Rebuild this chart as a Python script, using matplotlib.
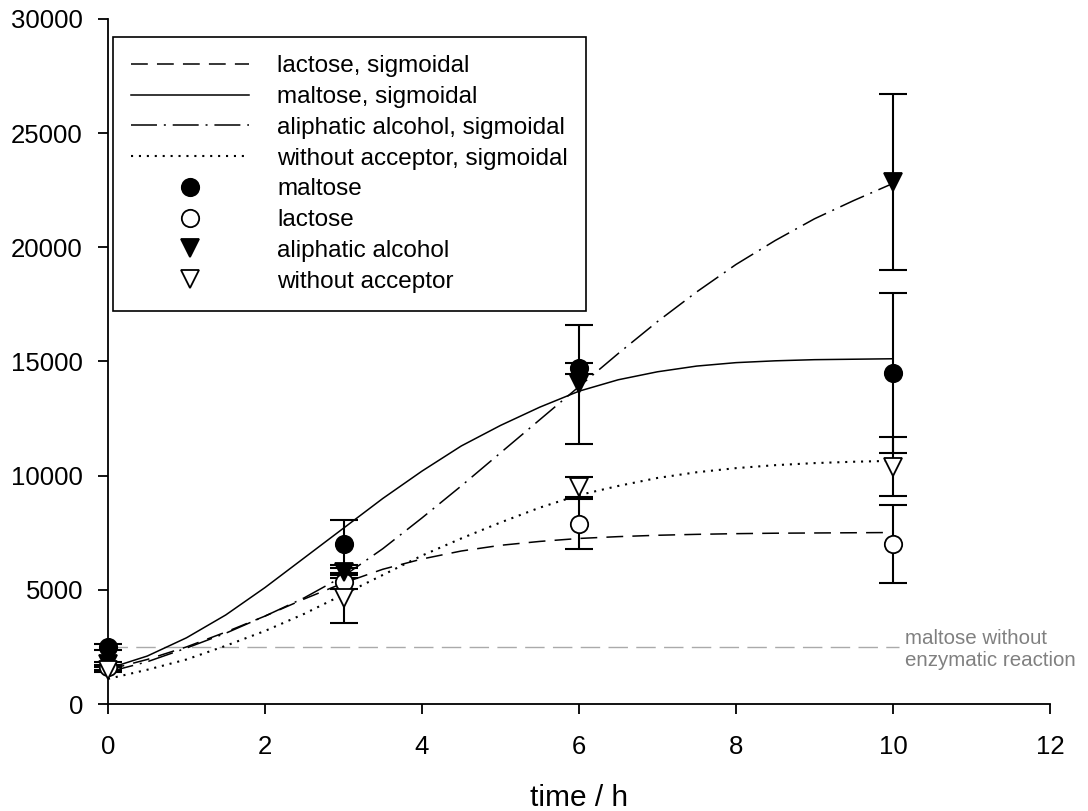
import numpy as np
import matplotlib.pyplot as plt
from matplotlib.lines import Line2D

plt.rcParams['font.family'] = ['Liberation Sans', 'DejaVu Sans']

# measured points
t = [0, 3, 6, 10]
maltose = [2500, 7000, 14700, 14500]
maltose_err = [120, 1050, 250, 3500]
lactose = [1600, 5350, 7900, 7000]
lactose_err = [100, 300, 1100, 1700]
alcohol = [1750, 5800, 14000, 22850]
alcohol_err = [100, 300, 2600, 3850]
no_acceptor = [1500, 4650, 9500, 10400]
no_acceptor_err = [100, 1100, 450, 1300]

t_fit = [0, 0.5, 1, 1.5, 2, 2.5, 3, 3.5, 4, 4.5, 5, 5.5, 6, 6.5, 7, 7.5, 8, 8.5, 9, 9.5, 10]
fit_lactose = [1500, 1950, 2500, 3150, 3850, 4600, 5300, 5900, 6350, 6700, 6950,
               7120, 7250, 7330, 7390, 7430, 7460, 7480, 7490, 7500, 7510]
fit_maltose = [1550, 2100, 2900, 3900, 5100, 6400, 7700, 9000, 10200, 11300, 12200,
               13000, 13700, 14200, 14550, 14800, 14950, 15030, 15080, 15100, 15120]
fit_alcohol = [1400, 1850, 2450, 3100, 3850, 4650, 5600, 6800, 8150, 9550, 11000,
               12450, 13900, 15350, 16750, 18050, 19250, 20300, 21250, 22050, 22800]
fit_no_acceptor = [1100, 1500, 1950, 2550, 3200, 3950, 4800, 5650, 6500, 7250, 7950,
                   8600, 9150, 9550, 9900, 10150, 10330, 10460, 10550, 10610, 10650]

blank_level = 2500
blank_t = [0, 10.08]

fig = plt.figure(figsize=(10.88, 8.11), dpi=100)
ax = fig.add_axes([108/1088, 1 - 704/811, 942/1088, 685/811])

lw = 1.1
ax.plot(blank_t, [blank_level, blank_level], color='#aaaaaa', lw=1.0, dashes=(14, 6))
ax.text(10.15, 3300, 'maltose without\nenzymatic reaction', color='#808080',
        fontsize=14.8, va='top', ha='left', linespacing=1.25)

l1, = ax.plot(t_fit, fit_lactose, color='black', lw=lw, dashes=(11, 6))
l2, = ax.plot(t_fit, fit_maltose, color='black', lw=lw)
l3, = ax.plot(t_fit, fit_alcohol, color='black', lw=lw, dashes=(17, 4.5, 1.3, 4.5))
l4, = ax.plot(t_fit, fit_no_acceptor, color='black', lw=1.5, dashes=(1, 2.8))

series = [
    (maltose, maltose_err, 'o', 'black'),
    (lactose, lactose_err, 'o', 'white'),
    (alcohol, alcohol_err, 'v', 'black'),
    (no_acceptor, no_acceptor_err, 'v', 'white'),
]
handles = [l1, l2, l3, l4]
for y, e, m, fc in series:
    eb = ax.errorbar(t, y, yerr=e, fmt='none', ecolor='black', elinewidth=1.5,
                     capsize=10, capthick=1.5, zorder=3)
    for a in eb.lines[1] + eb.lines[2]:
        a.set_clip_on(False)
    ax.plot(t, y, ls='none', marker=m, ms=12.5, mfc=fc, mec='black', mew=1.3,
            zorder=4, clip_on=False)
    handles.append(Line2D([], [], ls='none', marker=m, ms=12.5, mfc=fc, mec='black', mew=1.3))

labels = ['lactose, sigmoidal', 'maltose, sigmoidal', 'aliphatic alcohol, sigmoidal',
          'without acceptor, sigmoidal', 'maltose', 'lactose', 'aliphatic alcohol',
          'without acceptor']
leg = ax.legend(handles, labels, loc='upper left', bbox_to_anchor=(0.0053, 0.9737),
                borderaxespad=0, fontsize=17.5, handlelength=4.85, handletextpad=1.15,
                labelspacing=0.36, borderpad=0.75, fancybox=False, framealpha=1,
                edgecolor='black')
leg.get_frame().set_linewidth(1.2)
leg.set_zorder(5)

ax.set_xlim(0, 12)
ax.set_ylim(0, 30000)
ax.set_xticks([0, 2, 4, 6, 8, 10, 12])
ax.set_yticks([0, 5000, 10000, 15000, 20000, 25000, 30000])
for s in ['top', 'right']:
    ax.spines[s].set_visible(False)
for s in ['left', 'bottom']:
    ax.spines[s].set_linewidth(1.3)
ax.tick_params(direction='out', length=7.5, width=1.3, labelsize=18.5)
ax.tick_params(axis='y', pad=10.5)
ax.tick_params(axis='x', pad=15)
ax.set_xlabel('time / h', fontsize=21.5, labelpad=18)

fig.savefig('out.png', dpi=100)
